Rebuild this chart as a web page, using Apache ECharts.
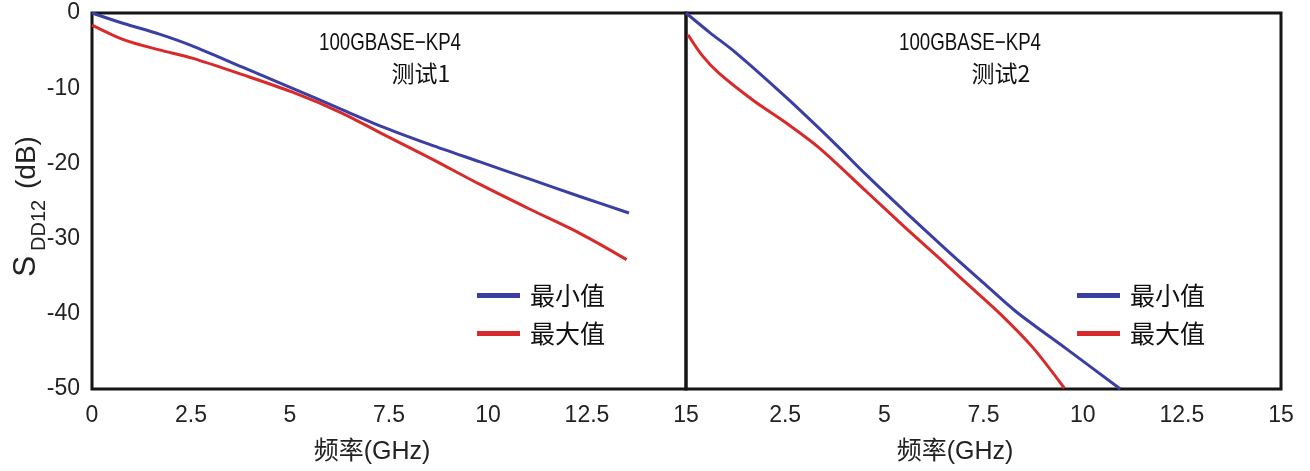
<!DOCTYPE html>
<html>
<head>
<meta charset="utf-8">
<script src="https://cdn.jsdelivr.net/npm/echarts@6/dist/echarts.min.js"></script>
<style>html,body{margin:0;padding:0;background:#fff}#c{width:1310px;height:471px}</style>
</head>
<body>
<div id="c"></div>
<script>
// ---- Data ----
const seriesNames = ['最小值', '最大值'];
const panelTitleTop = ['100GBASE\u2212KP4', '100GBASE\u2212KP4'];
const panelTitleSub = ['测试1', '测试2'];
const xAxisTitle = '频率(GHz)';
const xTickLabels = ['0', '2.5', '5', '7.5', '10', '12.5', '15'];
const yTickLabels = ['0', '-10', '-20', '-30', '-40', '-50'];

// Test 1
const t1MinFreq = [0, 0.8, 1.7, 2.5, 3.8, 5.05, 6.3, 7.27, 8.54, 9.8, 11.06, 12.32, 13.56];
const t1MinVal  = [0, -1.4, -2.8, -4.3, -7.2, -10.0, -12.8, -15.0, -17.5, -19.8, -22.1, -24.4, -26.6];
const t1MaxFreq = [0, 0.83, 1.7, 2.53, 3.8, 5.05, 6.31, 7.27, 8.54, 9.8, 11.06, 12.32, 13.5];
const t1MaxVal  = [-1.6, -3.6, -4.9, -6.0, -8.2, -10.5, -13.3, -15.9, -19.3, -22.8, -26.1, -29.3, -32.8];

// Test 2
const t2MinFreq = [0, 0.6, 1.26, 2.52, 3.78, 4.54, 5.5, 6.65, 7.5, 8.34, 9.6, 10.95];
const t2MinVal  = [0, -2.6, -5.3, -11.2, -17.5, -21.5, -26.3, -31.9, -35.9, -39.8, -44.7, -50];
const t2MaxFreq = [0.05, 0.4, 0.83, 1.69, 2.52, 3.35, 4.54, 5.5, 6.3, 7.0, 7.9, 8.73, 9.54];
const t2MaxVal  = [-2.9, -5.6, -8.0, -11.6, -14.6, -17.9, -23.7, -28.4, -32.2, -35.6, -39.9, -44.4, -49.9];

const BLUE = '#3b3fa3';
const RED = '#d82a2a';
const FONT = "'Liberation Sans', Arial, 'Noto Sans CJK SC', sans-serif";
const CJK = "'Noto Sans CJK SC', 'Liberation Sans', sans-serif";

function pairs(xs, ys) { return xs.map((x, i) => [x, ys[i]]); }

const chart = echarts.init(document.getElementById('c'), null, { renderer: 'canvas' });

const xAxisBase = (gi, hideMin) => ({
  type: 'value', gridIndex: gi, min: 0, max: 15, interval: 2.5,
  axisLine: { show: false }, axisTick: { show: false }, splitLine: { show: false },
  axisLabel: {
    fontSize: 23, color: '#222', fontFamily: FONT, margin: 15,
    showMinLabel: !hideMin,
    formatter: v => xTickLabels[Math.round(v / 2.5)]
  }
});
const yAxisBase = (gi, showLabel) => ({
  type: 'value', gridIndex: gi, min: -50, max: 0, interval: 10,
  axisLine: { show: false }, axisTick: { show: false }, splitLine: { show: false },
  axisLabel: {
    show: showLabel, fontSize: 23, color: '#222', fontFamily: FONT, margin: 12,
    formatter: v => yTickLabels[Math.round(-v / 10)]
  }
});

const lineSeries = (name, data, color, idx) => ({
  name, type: 'line', xAxisIndex: idx, yAxisIndex: idx, data,
  showSymbol: false, symbol: 'none', smooth: 0.3, clip: true,
  lineStyle: { color, width: 3 }, itemStyle: { color }, z: 3
});

const legendBase = (left) => ({
  left, top: 283, orient: 'vertical', icon: 'rect', itemWidth: 43, itemHeight: 5,
  itemGap: 13, padding: 0, data: seriesNames, selectedMode: false,
  textStyle: { fontSize: 25, color: '#111', fontFamily: CJK, padding: [0, 0, 0, 5] }
});

const txt = (x, y, text, size, family, extra) => Object.assign({
  type: 'text', x, y,
  style: { text, fontSize: size, fill: '#111', fontFamily: family, align: 'center', verticalAlign: 'middle' }
}, extra || {});

const yName = (x, y, text, size) => ({
  type: 'text', x, y, rotation: Math.PI / 2,
  style: { text, fontSize: size, fill: '#222', fontFamily: FONT, align: 'left', verticalAlign: 'middle' }
});

chart.setOption({
  backgroundColor: '#fff',
  animation: false,
  grid: [
    { left: 92, top: 13, width: 594, height: 376, show: true, borderColor: '#151515', borderWidth: 3, backgroundColor: 'transparent' },
    { left: 686, top: 13, width: 595, height: 376, show: true, borderColor: '#151515', borderWidth: 3, backgroundColor: 'transparent' }
  ],
  xAxis: [xAxisBase(0, false), xAxisBase(1, true)],
  yAxis: [yAxisBase(0, true), yAxisBase(1, false)],
  legend: [legendBase(477), legendBase(1077)],
  series: [
    lineSeries(seriesNames[0], pairs(t1MinFreq, t1MinVal), BLUE, 0),
    lineSeries(seriesNames[1], pairs(t1MaxFreq, t1MaxVal), RED, 0),
    lineSeries(seriesNames[0], pairs(t2MinFreq, t2MinVal), BLUE, 1),
    lineSeries(seriesNames[1], pairs(t2MaxFreq, t2MaxVal), RED, 1)
  ],
  graphic: [
    txt(390, 43, panelTitleTop[0], 24, FONT, { scaleX: 0.78 }),
    txt(421, 73, panelTitleSub[0], 23, CJK),
    txt(970, 43, panelTitleTop[1], 24, FONT, { scaleX: 0.78 }),
    txt(1001, 73, panelTitleSub[1], 23, CJK),
    txt(372, 452, xAxisTitle, 25, CJK, { style: { text: xAxisTitle, fontSize: 25, fill: '#222', fontFamily: FONT, align: 'center', verticalAlign: 'middle' } }),
    txt(955, 452, xAxisTitle, 25, CJK, { style: { text: xAxisTitle, fontSize: 25, fill: '#222', fontFamily: FONT, align: 'center', verticalAlign: 'middle' } }),
    yName(26, 277, 'S', 32),
    yName(39, 251, 'DD12', 20),
    yName(27, 189, '(dB)', 28)
  ]
});
</script>
</body>
</html>
